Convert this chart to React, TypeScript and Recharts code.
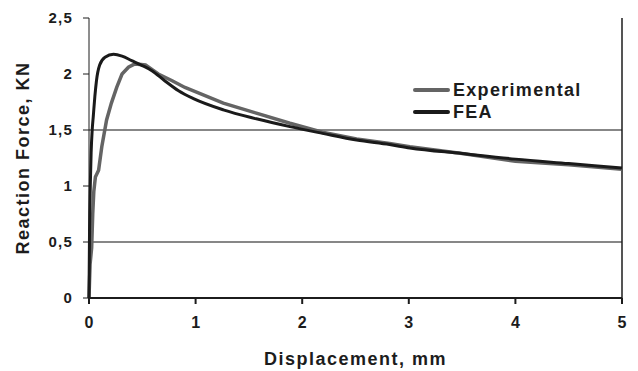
import {
  LineChart,
  Line,
  XAxis,
  YAxis,
  ReferenceLine,
  Legend,
  Label,
} from "recharts";

// Experimental curve (displacement mm, force kN)
const expDisp = [
  0, 0.01, 0.025, 0.035, 0.045, 0.06, 0.08, 0.09, 0.12, 0.165, 0.21, 0.26, 0.31,
  0.37, 0.43, 0.53, 0.65, 0.78, 0.9, 0.98, 1.26, 1.57, 1.885, 2.19, 2.51, 2.82,
  3.01, 3.5, 4.0, 4.5, 5.0,
];
const expForce = [
  0, 0.3, 0.45, 0.75, 0.95, 1.08, 1.12, 1.14, 1.35, 1.59, 1.74, 1.88, 2.0, 2.06,
  2.09, 2.08, 2.0, 1.94, 1.88, 1.85, 1.74, 1.65, 1.56, 1.48, 1.42, 1.38, 1.35,
  1.29, 1.22, 1.19, 1.15,
];

// FEA curve
const feaDisp = [
  0, 0.005, 0.012, 0.02, 0.03, 0.04, 0.055, 0.07, 0.1, 0.15, 0.23, 0.31, 0.4,
  0.49, 0.59, 0.71, 0.84, 0.98, 1.26, 1.57, 1.885, 2.19, 2.51, 2.82, 3.01, 3.5,
  4.0, 4.5, 5.0,
];
const feaForce = [
  0, 0.6, 1.0, 1.3, 1.5, 1.62, 1.8, 1.94, 2.08, 2.15, 2.176, 2.16, 2.12, 2.08,
  2.03, 1.94, 1.85, 1.78, 1.68, 1.6, 1.53, 1.47, 1.41, 1.37, 1.34, 1.29, 1.24,
  1.2, 1.16,
];

const xTicks = [0, 1, 2, 3, 4, 5];
const yTicks = [0, 0.5, 1, 1.5, 2, 2.5];
const gridLevels = [0.5, 1.5];

const expData = expDisp.map((x, i) => ({ x, y: expForce[i] }));
const feaData = feaDisp.map((x, i) => ({ x, y: feaForce[i] }));

const ink = "#1c1c1c";
const font = "'Liberation Sans', Arial, sans-serif";

function LegendBox({ payload }: any) {
  return (
    <div style={{ fontFamily: font, textAlign: "left" }}>
      {(payload || []).map((p: any) => (
        <div
          key={p.value}
          style={{ display: "flex", alignItems: "center", height: 22 }}
        >
          <div
            style={{
              width: 37,
              height: 4,
              borderRadius: 2,
              background: p.color,
              marginRight: 3,
            }}
          />
          <span
            style={{
              fontSize: 18,
              fontWeight: "bold",
              color: ink,
              letterSpacing: 1.3,
              lineHeight: "22px",
            }}
          >
            {p.value}
          </span>
        </div>
      ))}
    </div>
  );
}

export default function App() {
  return (
    <div style={{ position: "absolute", left: 0, top: 0, background: "#fff" }}>
      <LineChart
        width={638}
        height={371}
        margin={{ top: 18, right: 16, bottom: 0, left: 0 }}
        style={{ fontFamily: font }}
      >
        <XAxis
          type="number"
          dataKey="x"
          domain={[0, 5]}
          ticks={xTicks}
          height={73}
          tickSize={6}
          tickMargin={13}
          axisLine={{ stroke: ink, strokeWidth: 2 }}
          tickLine={{ stroke: ink, strokeWidth: 2 }}
          tick={{ fill: ink, fontSize: 16, fontWeight: "bold" }}
        >
          <Label
            value="Displacement, mm"
            position="insideBottom"
            offset={6}
            style={{
              fill: ink,
              fontSize: 18,
              fontWeight: "bold",
              letterSpacing: 1.5,
            }}
          />
        </XAxis>
        <YAxis
          type="number"
          domain={[0, 2.5]}
          ticks={yTicks}
          width={89}
          tickSize={6}
          tickMargin={10}
          tickFormatter={(v) => String(v).replace(".", ",")}
          axisLine={{ stroke: ink }}
          tickLine={{ stroke: ink }}
          tick={{ fill: ink, fontSize: 15, fontWeight: "bold", letterSpacing: 1.2 }}
        >
          <Label
            content={({ viewBox }: any) => {
              const cx = 22.5;
              const cy = viewBox.y + viewBox.height / 2;
              return (
                <text
                  x={cx}
                  y={cy}
                  transform={`rotate(-90 ${cx} ${cy})`}
                  textAnchor="middle"
                  dominantBaseline="central"
                  fill={ink}
                  fontSize={18}
                  fontWeight="bold"
                  letterSpacing={1.5}
                  fontFamily={font}
                >
                  Reaction Force, KN
                </text>
              );
            }}
          />
        </YAxis>
        {gridLevels.map((g) => (
          <ReferenceLine key={g} y={g} stroke="#111" strokeWidth={1.2} />
        ))}
        <ReferenceLine x={5} stroke={ink} strokeWidth={1.5} />
        <Legend
          layout="horizontal"
          verticalAlign="middle"
          align="center"
          content={<LegendBox />}
          wrapperStyle={{ position: "absolute", left: 413, top: 79, width: 200 }}
        />
        <Line
          data={expData}
          dataKey="y"
          name="Experimental"
          type="linear"
          stroke="#646464"
          strokeWidth={3.5}
          dot={false}
          isAnimationActive={false}
        />
        <Line
          data={feaData}
          dataKey="y"
          name="FEA"
          type="monotone"
          stroke="#1a1a1a"
          strokeWidth={3}
          dot={false}
          isAnimationActive={false}
        />
      </LineChart>
    </div>
  );
}
